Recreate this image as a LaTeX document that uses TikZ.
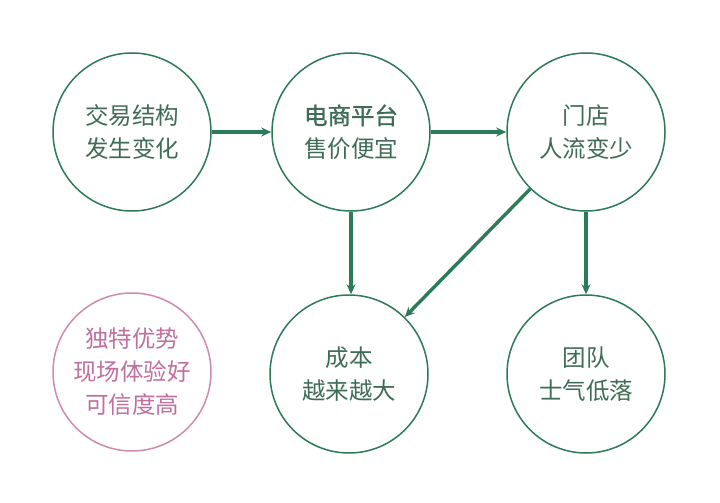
\documentclass[tikz,border=0pt]{standalone}
\usepackage{fontspec}
\usepackage{tikz}
\usetikzlibrary{arrows.meta}
\setmainfont{Noto Sans CJK SC}
\newfontfamily\heavycjk[FakeBold=1.2]{Noto Sans CJK SC}

\definecolor{lineGreen}{RGB}{45,122,88}
\definecolor{textGreen}{RGB}{62,108,86}
\definecolor{linePink}{RGB}{205,140,175}
\definecolor{textPink}{RGB}{192,112,158}

\tikzset{
  bubble/.style={circle, draw=lineGreen, line width=1.5pt, minimum size=158pt,
    inner sep=0pt, text=textGreen, align=center,
    font=\fontsize{23.5pt}{33pt}\selectfont},
  pinkbubble/.style={bubble, draw=linePink, text=textPink},
  flow/.style={->, draw=lineGreen, line width=3.4pt}
}

\begin{document}
\begin{tikzpicture}[x=1pt, y=-1pt, >={Stealth[length=10pt,width=9pt]}]
  \useasboundingbox[fill=white] (0,0) rectangle (720,503);

  % --- 1. Top row ---
  \node[bubble] (trade) at (132,132) {交易结构\\发生变化};
  \node[bubble] (online) at (351,132) {{\heavycjk 电商平台}\\售价便宜};
  \node[bubble] (store) at (586,132) {门店\\人流变少};

  % --- 2. Bottom row ---
  \node[pinkbubble] (edge) at (132,372) {独特优势\\现场体验好\\可信度高};
  \node[bubble] (cost) at (349,374) {成本\\越来越大};
  \node[bubble] (team) at (586,374) {团队\\士气低落};

  % --- 3. Arrows ---
  \draw[flow] (trade) -- (online);
  \draw[flow] (online) -- (store);
  \draw[flow] (online.south) -- (online.south |- cost.north);
  \draw[flow] (store) -- (cost);
  \draw[flow] (store) -- (team);

\end{tikzpicture}
\end{document}
